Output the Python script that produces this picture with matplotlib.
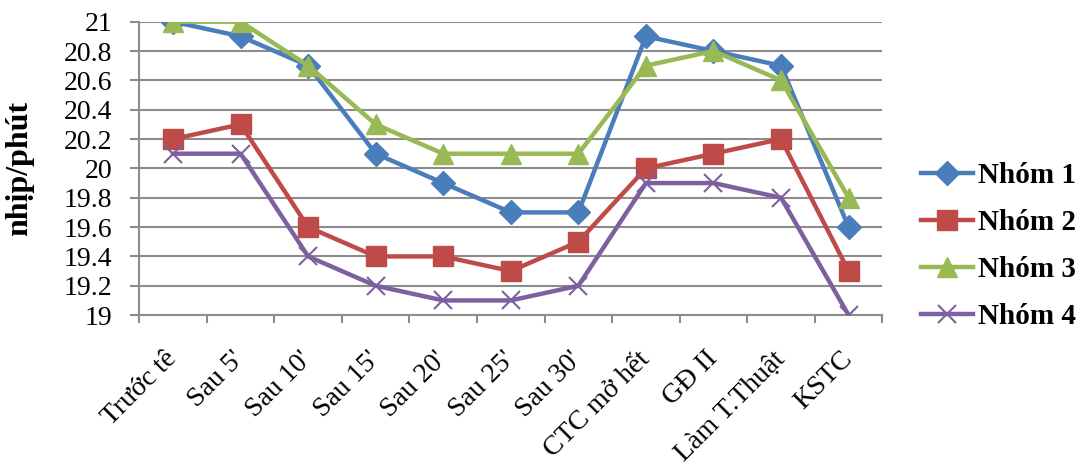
import matplotlib.pyplot as plt
import numpy as np

plt.rcParams['font.family'] = ['Liberation Serif', 'DejaVu Serif']

# Mốc thời gian theo dõi
moc = ["Trước tê", "Sau 5'", "Sau 10'", "Sau 15'", "Sau 20'", "Sau 25'",
       "Sau 30'", "CTC mở hết", "GĐ II", "Làm T.Thuật", "KSTC"]

nhom1 = [21.0, 20.9, 20.7, 20.1, 19.9, 19.7, 19.7, 20.9, 20.8, 20.7, 19.6]
nhom2 = [20.2, 20.3, 19.6, 19.4, 19.4, 19.3, 19.5, 20.0, 20.1, 20.2, 19.3]
nhom3 = [21.0, 21.0, 20.7, 20.3, 20.1, 20.1, 20.1, 20.7, 20.8, 20.6, 19.8]
nhom4 = [20.1, 20.1, 19.4, 19.2, 19.1, 19.1, 19.2, 19.9, 19.9, 19.8, 19.0]

fig = plt.figure(figsize=(10.88, 4.71), dpi=100)
ax = fig.add_axes([0.128, 0.331, 0.683, 0.623])

x = np.arange(len(moc))
ax.plot(x, nhom1, color='#4A7EBB', lw=3.2, marker='D', ms=12, label='Nhóm 1', zorder=3)
ax.plot(x, nhom2, color='#BE4B48', lw=3.2, marker='s', ms=14, label='Nhóm 2', zorder=3)
ax.plot(x, nhom3, color='#98B954', lw=3.2, marker='^', ms=15, label='Nhóm 3', zorder=3)
ax.plot(x, nhom4, color='#7D60A0', lw=3.2, marker='x', ms=13, mew=1.5, label='Nhóm 4', zorder=3)

ax.set_xlim(-0.5, len(moc) - 0.5)
ax.set_ylim(19, 21)
yt = np.round(np.arange(19, 21.01, 0.2), 1)
ax.set_yticks(yt)
ax.set_yticklabels([f"{v:g}" for v in yt])
ax.set_xticks(x)
ax.set_xticklabels(moc, rotation=45, ha='right', va='center', rotation_mode='anchor')
ax.set_xticks(np.arange(-0.5, len(moc)), minor=True)

ax.grid(axis='y', color='#8c8c8c', lw=1.5)
ax.set_axisbelow(True)
for s in ['top', 'right']:
    ax.spines[s].set_visible(False)
for s in ['left', 'bottom']:
    ax.spines[s].set_color('#8c8c8c')
    ax.spines[s].set_linewidth(1.5)

ax.tick_params(axis='x', which='major', length=0, labelsize=20, pad=29)
ax.tick_params(axis='x', which='minor', length=6, width=1.5, color='#8c8c8c')
ax.tick_params(axis='y', length=6.5, width=1.5, color='#8c8c8c', labelsize=20, pad=13)

ax.set_ylabel('nhịp/phút', fontsize=23, fontweight='bold')
ax.yaxis.set_label_coords(-0.141, 0.5)

leg = ax.legend(loc='center left', bbox_to_anchor=(1.016, 0.235), frameon=False,
                prop={'size': 21, 'weight': 'bold'}, handlelength=1.8,
                handletextpad=0.17, labelspacing=0.69)

fig.savefig('out.png', dpi=100)
